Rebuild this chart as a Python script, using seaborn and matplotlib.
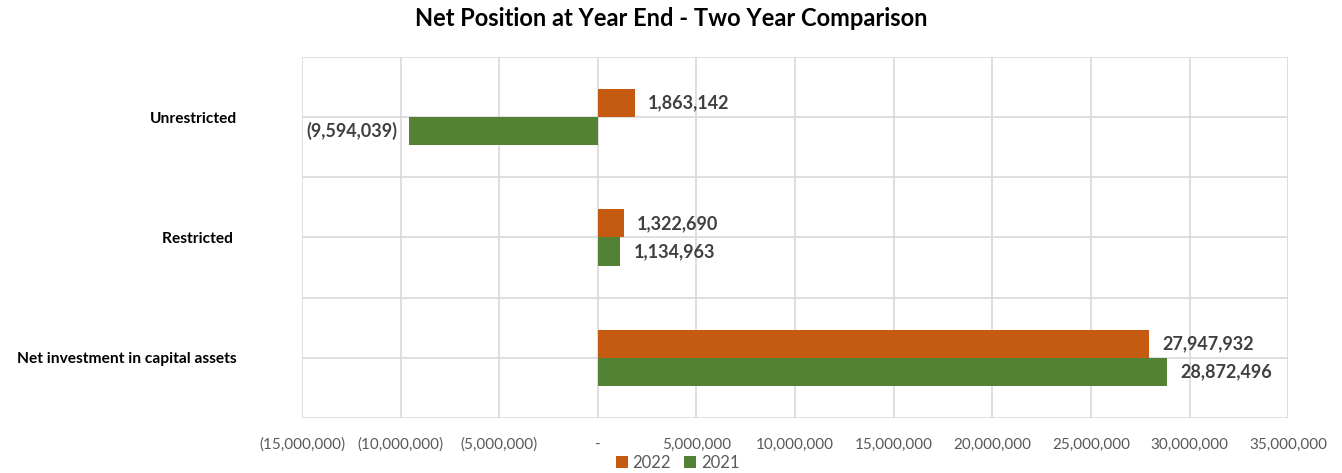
import matplotlib
matplotlib.use("Agg")
import matplotlib.pyplot as plt
import seaborn as sns
import pandas as pd
from matplotlib.ticker import FuncFormatter, MultipleLocator

categories = ["Unrestricted", "Restricted ", "Net investment in capital assets"]
values_2022 = [1863142, 1322690, 27947932]
values_2021 = [-9594039, 1134963, 28872496]
years = ["2022", "2021"]
colors = ["#C55A11", "#548235"]

df = pd.DataFrame({
    "category": categories * 2,
    "value": values_2022 + values_2021,
    "year": [years[0]] * 3 + [years[1]] * 3,
})

sns.set_theme(style="white")
plt.rcParams["font.family"] = ["Lato", "DejaVu Sans"]

fig = plt.figure(figsize=(13.42, 4.73), dpi=100)
ax = fig.add_axes([0.225, 0.1163, 0.735, 0.7632])

sns.barplot(data=df, y="category", x="value", hue="year", hue_order=years,
            palette=colors, orient="h", width=0.47, ax=ax, saturation=1,
            legend=True, linewidth=0)

ax.set_xlim(-15000000, 35000000)
ax.set_ylim(2.5, -0.5)
ax.xaxis.set_major_locator(MultipleLocator(5000000))

def fmt(v, pos=None):
    if abs(v) < 1:
        return "-"
    if v < 0:
        return "({:,.0f})".format(-v)
    return "{:,.0f}".format(v)

ax.xaxis.set_major_formatter(FuncFormatter(fmt))
ax.grid(False)
for x in range(-15000000, 35000001, 5000000):
    ax.axvline(x, color="#D9D9D9", lw=1.2, zorder=0)
for y in [-0.5, 0, 0.5, 1, 1.5, 2, 2.5]:
    ax.axhline(y, color="#D9D9D9", lw=1.2, zorder=0)
for s in ax.spines.values():
    s.set_visible(False)

ax.tick_params(axis="x", length=0, pad=14, labelsize=11, labelcolor="#595959")
ax.tick_params(axis="y", length=0, pad=47)
for lab in ax.get_yticklabels():
    lab.set_fontweight("bold")
    lab.set_fontsize(11.2)
    lab.set_color("#000000")
ax.set_xlabel("")
ax.set_ylabel("")

for cont in ax.containers:
    for bar in cont:
        w = bar.get_width()
        yc = bar.get_y() + bar.get_height() / 2
        if w >= 0:
            ax.annotate(fmt(w), (w, yc), xytext=(9.5, 0), textcoords="offset points",
                        ha="left", va="center", fontsize=13, fontweight="bold", color="#404040")
        else:
            ax.annotate(fmt(w), (w, yc), xytext=(-8, 0), textcoords="offset points",
                        ha="right", va="center", fontsize=13, fontweight="bold", color="#404040")

handles, labels = ax.get_legend_handles_labels()
ax.get_legend().remove()
fig.legend(handles, labels, loc="center", bbox_to_anchor=(0.505, 0.021), ncol=2, frameon=False,
           fontsize=12, handlelength=0.7, handleheight=0.7, handletextpad=0.3,
           columnspacing=0.8, labelcolor="#595959", borderaxespad=0, borderpad=0)

fig.suptitle("Net Position at Year End - Two Year Comparison", x=0.5, y=0.985,
             fontsize=17, fontweight="bold", color="#000000")

fig.savefig("out.png", dpi=100)
